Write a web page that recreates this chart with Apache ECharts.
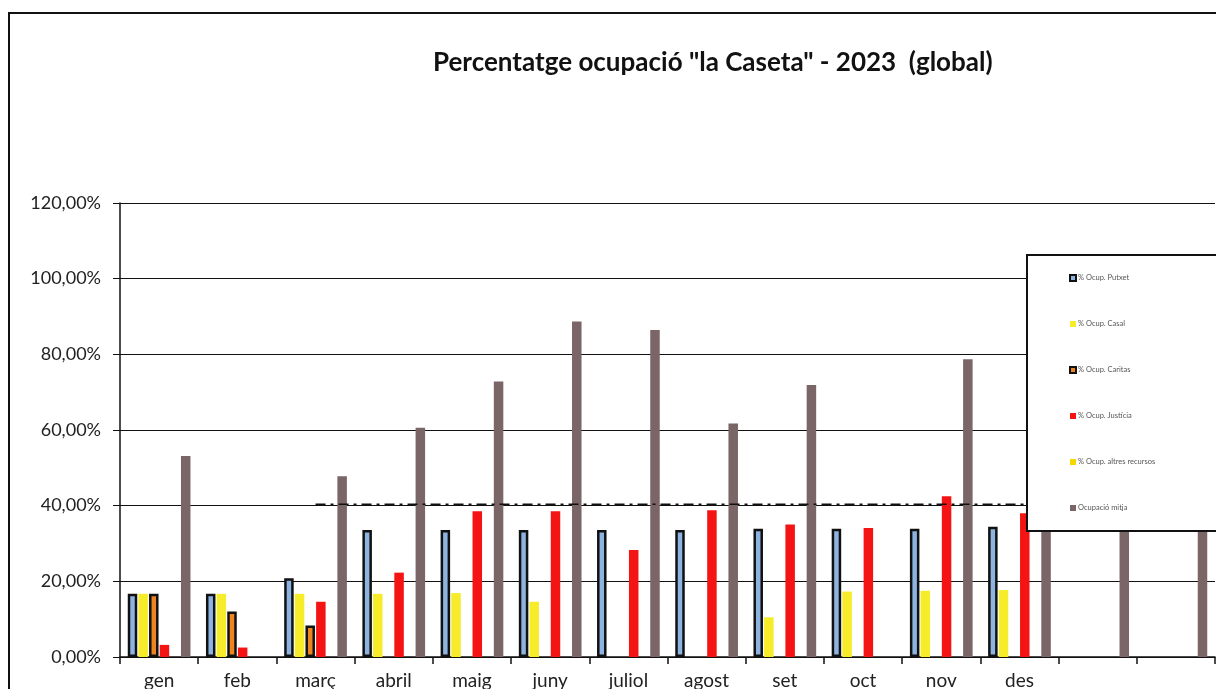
<!DOCTYPE html>
<html>
<head>
<meta charset="utf-8">
<script src="https://cdn.jsdelivr.net/npm/echarts@6/dist/echarts.min.js"></script>
<style>
html,body{margin:0;padding:0;background:#fff;}
#chart{width:1216px;height:689px;}
</style>
</head>
<body>
<div id="chart"></div>
<script>
const categories = ['gen','feb','març','abril','maig','juny','juliol','agost','set','oct','nov','des','',''];
const yTicks = [0,20,40,60,80,100,120];
const putxet   = [16.7,16.7,20.8,33.6,33.6,33.6,33.6,33.6,33.9,33.9,33.9,34.4,null,null];
const casal    = [16.7,16.7,16.7,16.7,16.9,14.6,null,null,10.5,17.3,17.5,17.7,null,null];
const caritas  = [16.7,12.0,8.3,null,null,null,null,null,null,null,null,null,null,null];
const justicia = [3.2,2.5,14.6,22.3,38.5,38.5,28.3,38.8,35.0,34.1,42.5,38.0,null,null];
const altres   = [null,null,null,null,null,null,null,null,null,null,null,null,null,null];
const mitja    = [53.1,null,47.8,60.6,72.8,88.7,86.4,61.7,71.9,null,78.7,65.0,70.0,75.0];
const refLine  = [null,null,40.4,40.4,40.4,40.4,40.4,40.4,40.4,40.4,40.4,40.4,40.4,40.4];
const names = ['% Ocup. Putxet','% Ocup. Casal','% Ocup. Caritas','% Ocup. Justícia','% Ocup. altres recursos','Ocupació mitja'];

const chart = echarts.init(document.getElementById('chart'));
const fmt = v => v.toFixed(2).replace('.', ',') + '%';
const barBase = {type:'bar', barWidth:9.5, barGap:'12%'};
chart.setOption({
  animation:false,
  backgroundColor:'#fff',
  textStyle:{fontFamily:'Lato'},
  title:{
    text:'Percentatge ocupació "la Caseta" - 2023  (global)',
    left:428, top:45,
    textStyle:{fontFamily:'Lato', fontWeight:'bold', fontSize:26, color:'#111'}
  },
  graphic:[{type:'rect', shape:{x:9,y:13,width:1240,height:700}, style:{fill:null, stroke:'#111', lineWidth:2}, z:100, silent:true}],
  legend:{
    orient:'vertical', left:1027, top:255,
    data:names,
    backgroundColor:'#fff', borderColor:'#111', borderWidth:2,
    padding:[19,90,19,42],
    itemWidth:6, itemHeight:6, itemGap:38,
    icon:'rect',
    textStyle:{fontFamily:'Lato', fontSize:7.5, color:'#555', lineHeight:8, padding:[0,0,0,-3]},
    z:50
  },
  grid:{left:120, right:1, top:203, bottom:32, outerBoundsMode:'none', containLabel:false},
  xAxis:{
    type:'category', data:categories,
    axisLine:{lineStyle:{color:'#111', width:1.5}},
    axisTick:{show:true, length:7, lineStyle:{color:'#111', width:1.5}},
    axisLabel:{fontFamily:'Lato', fontSize:19, color:'#222', margin:14, interval:0}
  },
  yAxis:{
    type:'value', min:0, max:120, interval:20,
    axisLine:{show:true, lineStyle:{color:'#111', width:1.5}},
    axisTick:{show:true, length:7, lineStyle:{color:'#111'}},
    axisLabel:{fontFamily:'Lato', fontSize:18, color:'#222', margin:19, formatter:fmt},
    splitLine:{lineStyle:{color:'#111', width:1.2}}
  },
  series:[
    {type:'line', name:'ref', data:refLine, symbol:'none', lineStyle:{color:'#111', width:1.5, type:[10,5,3,5]}, silent:true},
    Object.assign({}, barBase, {name:names[0], data:putxet, itemStyle:{color:'#8DB3E0', borderColor:'#111', borderWidth:2.5}}),
    Object.assign({}, barBase, {name:names[1], data:casal, itemStyle:{color:'#F6EC2A'}}),
    Object.assign({}, barBase, {name:names[2], data:caritas, itemStyle:{color:'#EE8420', borderColor:'#111', borderWidth:2.5}}),
    Object.assign({}, barBase, {name:names[3], data:justicia, itemStyle:{color:'#F41414'}}),
    Object.assign({}, barBase, {name:names[4], data:altres, itemStyle:{color:'#F6D800'}}),
    Object.assign({}, barBase, {name:names[5], data:mitja, itemStyle:{color:'#7A6567'}})
  ]
});
</script>
</body>
</html>
